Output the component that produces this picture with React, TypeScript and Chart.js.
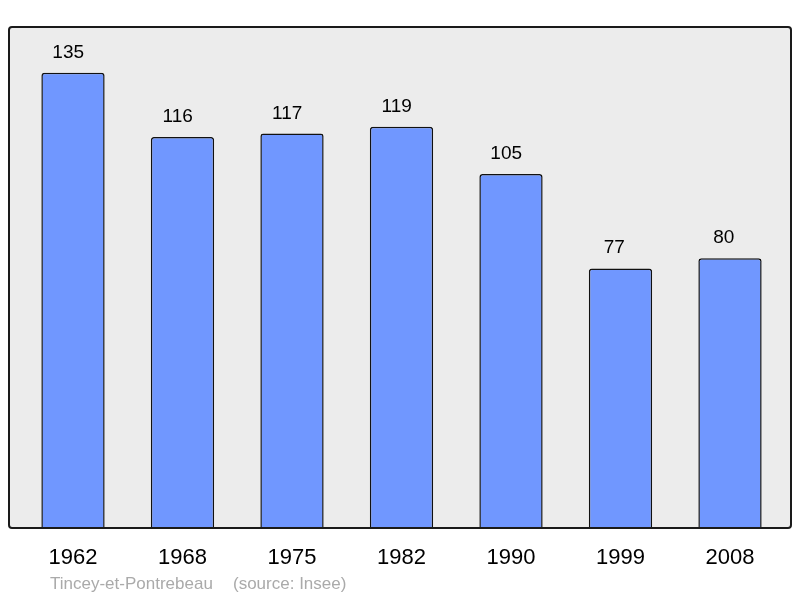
import React, { useEffect, useRef } from "react";
import { Chart, registerables } from "chart.js";

Chart.register(...registerables);

const years = ["1962", "1968", "1975", "1982", "1990", "1999", "2008"];
const population = [135, 116, 117, 119, 105, 77, 80];
const placeName = "Tincey-et-Pontrebeau";
const sourceText = "(source: Insee)";

const FONT = "'Liberation Sans', Arial, sans-serif";

export default function App() {
  const ref = useRef<HTMLCanvasElement | null>(null);

  useEffect(() => {
    const canvas = ref.current;
    if (!canvas) return;

    const frame = {
      id: "frame",
      beforeDraw(chart: any) {
        const ctx = chart.ctx;
        ctx.save();
        ctx.fillStyle = "#ffffff";
        ctx.fillRect(0, 0, chart.width, chart.height);
        ctx.beginPath();
        ctx.roundRect(9, 27, 782, 501, 3);
        ctx.fillStyle = "#ececec";
        ctx.fill();
        ctx.restore();
      },
      afterDatasetsDraw(chart: any) {
        const ctx = chart.ctx;
        const meta = chart.getDatasetMeta(0);
        const xScale = chart.scales.x;
        ctx.save();
        // border
        ctx.beginPath();
        ctx.roundRect(9, 27, 782, 501, 3);
        ctx.lineWidth = 2;
        ctx.strokeStyle = "#1a1a1a";
        ctx.stroke();
        // value labels
        ctx.fillStyle = "#000000";
        ctx.textAlign = "center";
        ctx.textBaseline = "alphabetic";
        ctx.font = `19px ${FONT}`;
        meta.data.forEach((bar: any, i: number) => {
          const txt = String(population[i]);
          const shift = txt.length >= 3 ? 4.8 : 6.3;
          ctx.fillText(txt, bar.x - shift, bar.y - 15);
        });
        // category labels
        ctx.font = `22px ${FONT}`;
        years.forEach((y, i) => {
          ctx.fillText(y, xScale.getPixelForValue(i), 564);
        });
        // source
        ctx.textAlign = "left";
        ctx.fillStyle = "#aaaaaa";
        ctx.font = `17px ${FONT}`;
        ctx.fillText(placeName, 50, 589);
        ctx.fillText(sourceText, 233, 589);
        ctx.restore();
      },
    };

    const chart = new Chart(canvas, {
      type: "bar",
      data: {
        labels: years,
        datasets: [
          {
            data: population,
            backgroundColor: "#7097ff",
            borderColor: "#111111",
            borderWidth: 1.5,
            borderSkipped: "bottom",
            borderRadius: { topLeft: 3, topRight: 3, bottomLeft: 0, bottomRight: 0 },
            categoryPercentage: 1,
            barPercentage: 0.578,
          },
        ],
      },
      options: {
        responsive: false,
        animation: false,
        layout: { padding: { left: 18.25, right: 15.25, top: 27, bottom: 70 } },
        plugins: {
          legend: { display: false },
          tooltip: { enabled: false },
          title: { display: false },
        },
        scales: {
          x: { display: false, offset: true },
          y: { display: false, min: 0, max: 148.6 },
        },
      },
      plugins: [frame],
    });

    return () => chart.destroy();
  }, []);

  return (
    <div style={{ position: "absolute", left: 0, top: 0, width: 800, height: 598 }}>
      <canvas ref={ref} width={800} height={598} style={{ display: "block" }} />
    </div>
  );
}
